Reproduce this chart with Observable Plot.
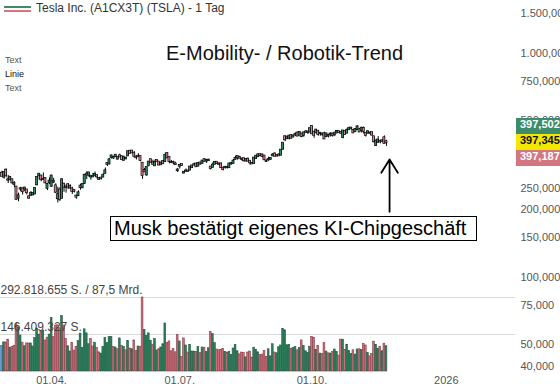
<!DOCTYPE html>
<html><head><meta charset="utf-8">
<script src="https://cdn.jsdelivr.net/npm/d3@7"></script>
<script src="https://cdn.jsdelivr.net/npm/@observablehq/plot@0.6"></script>
<style>
html,body{margin:0;padding:0;background:#fff;}
#wrap{position:relative;width:560px;height:391px;overflow:hidden;font-family:"Liberation Sans",Arial,sans-serif;background:#fff;}
#wrap svg{position:absolute;left:0;top:0;}
.ov{position:absolute;white-space:nowrap;}
.quote{position:absolute;left:516px;width:44px;height:16px;line-height:16px;padding-left:4px;box-sizing:border-box;font:bold 11px "Liberation Sans",Arial,sans-serif;overflow:hidden;}
</style></head><body><div id="wrap"></div>
<script>
// ---------- data ----------
const dates = [
"2025-02-27","2025-02-28","2025-03-03","2025-03-04","2025-03-05","2025-03-06","2025-03-07","2025-03-10","2025-03-11","2025-03-12","2025-03-13","2025-03-14","2025-03-17","2025-03-18","2025-03-19","2025-03-20","2025-03-21","2025-03-24","2025-03-25","2025-03-26","2025-03-27","2025-03-28","2025-03-31",
"2025-04-01","2025-04-02","2025-04-03","2025-04-04","2025-04-07","2025-04-08","2025-04-09","2025-04-10","2025-04-11","2025-04-14","2025-04-15","2025-04-16","2025-04-17","2025-04-21","2025-04-22","2025-04-23","2025-04-24","2025-04-25","2025-04-28","2025-04-29","2025-04-30",
"2025-05-01","2025-05-02","2025-05-05","2025-05-06","2025-05-07","2025-05-08","2025-05-09","2025-05-12","2025-05-13","2025-05-14","2025-05-15","2025-05-16","2025-05-19","2025-05-20","2025-05-21","2025-05-22","2025-05-23","2025-05-27","2025-05-28","2025-05-29","2025-05-30",
"2025-06-02","2025-06-03","2025-06-04","2025-06-05","2025-06-06","2025-06-09","2025-06-10","2025-06-11","2025-06-12","2025-06-13","2025-06-16","2025-06-17","2025-06-18","2025-06-20","2025-06-23","2025-06-24","2025-06-25","2025-06-26","2025-06-27","2025-06-30",
"2025-07-01","2025-07-02","2025-07-03","2025-07-07","2025-07-08","2025-07-09","2025-07-10","2025-07-11","2025-07-14","2025-07-15","2025-07-16","2025-07-17","2025-07-18","2025-07-21","2025-07-22","2025-07-23","2025-07-24","2025-07-25","2025-07-28","2025-07-29","2025-07-30","2025-07-31",
"2025-08-01","2025-08-04","2025-08-05","2025-08-06","2025-08-07","2025-08-08","2025-08-11","2025-08-12","2025-08-13","2025-08-14","2025-08-15","2025-08-18","2025-08-19","2025-08-20","2025-08-21","2025-08-22","2025-08-25","2025-08-26","2025-08-27","2025-08-28","2025-08-29",
"2025-09-02","2025-09-03","2025-09-04","2025-09-05","2025-09-08","2025-09-09","2025-09-10","2025-09-11","2025-09-12","2025-09-15","2025-09-16","2025-09-17","2025-09-18","2025-09-19","2025-09-22","2025-09-23","2025-09-24","2025-09-25","2025-09-26","2025-09-29","2025-09-30",
"2025-10-01","2025-10-02","2025-10-03","2025-10-06","2025-10-07","2025-10-08","2025-10-09","2025-10-10","2025-10-13","2025-10-14","2025-10-15","2025-10-16","2025-10-17","2025-10-20","2025-10-21","2025-10-22","2025-10-23","2025-10-24","2025-10-27","2025-10-28","2025-10-29","2025-10-30","2025-10-31",
"2025-11-03","2025-11-04","2025-11-05","2025-11-06","2025-11-07","2025-11-10","2025-11-11","2025-11-12","2025-11-13","2025-11-14","2025-11-17","2025-11-18","2025-11-19","2025-11-20","2025-11-21"];

const open = [
291.2,279.5,300.3,270.9,272.9,272.1,259.3,252.5,225.3,247.2,248.1,247.3,245.1,228.2,232.0,233.3,234.9,258.1,283.6,282.7,272.5,275.6,249.3,
263.8,254.6,265.3,255.4,223.8,245.0,224.7,260.0,251.8,258.4,249.9,247.6,243.5,230.3,230.9,254.9,250.5,261.7,288.2,285.5,279.9,
280.0,284.9,284.6,273.1,276.9,279.6,290.2,321.9,320.0,342.5,340.3,346.2,336.3,347.9,344.4,331.9,337.9,347.4,364.8,365.3,355.5,
343.5,346.6,345.1,322.5,298.8,285.9,314.9,334.4,323.1,313.9,331.3,326.1,317.3,327.9,327.5,356.2,342.7,324.6,324.5,319.9,
298.5,312.6,318.0,291.4,297.0,297.5,300.1,307.9,317.7,319.7,312.8,323.2,321.7,334.4,329.7,330.9,310.0,308.7,318.5,325.6,319.4,319.6,
306.2,309.1,308.8,307.9,319.8,321.4,335.0,345.0,341.5,335.8,337.7,329.6,335.8,329.2,322.1,321.7,338.9,344.9,351.9,350.9,347.2,
328.2,335.2,336.1,348.0,354.6,348.4,350.6,350.2,370.9,423.1,414.5,415.8,428.9,421.8,431.1,439.9,429.8,435.2,428.3,444.4,441.5,
443.8,470.5,443.3,440.8,447.8,437.6,431.8,436.5,423.5,426.8,434.7,434.7,432.1,443.9,445.8,442.2,420.0,446.8,439.0,454.8,462.5,451.1,446.8,
455.0,454.5,452.0,461.0,437.9,440.0,439.4,442.2,423.1,386.4,398.7,402.4,406.0,418.6,402.0];

const high = [
297.2,293.9,303.9,284.4,279.6,272.7,266.3,253.1,237.1,251.8,248.3,251.6,245.4,230.1,241.0,238.0,249.5,278.6,288.2,284.9,291.9,276.1,260.6,
277.5,284.9,276.3,261.0,252.0,250.4,274.7,262.5,257.7,261.8,258.6,251.9,244.3,232.2,242.8,259.5,259.5,286.9,294.9,293.3,284.5,
290.9,294.8,284.9,277.7,277.9,289.8,307.0,322.2,337.6,350.0,346.1,351.6,343.0,354.0,347.4,347.3,343.2,363.8,365.0,367.7,363.7,
348.0,355.4,345.6,324.6,305.5,309.8,327.8,335.5,332.6,333.0,332.5,327.3,329.3,332.4,357.5,356.3,343.0,331.1,329.3,325.6,
305.9,316.8,318.5,296.2,304.1,300.2,310.5,314.1,322.6,321.2,323.5,324.3,330.9,338.0,335.4,336.2,310.2,323.6,326.3,326.3,324.0,324.3,
309.3,312.1,312.9,320.5,322.4,335.2,346.6,345.3,346.0,340.5,339.3,336.3,340.6,331.4,324.9,340.3,349.5,351.9,355.4,353.6,348.8,
333.3,343.3,338.9,355.9,358.4,350.8,356.3,369.0,396.7,425.7,423.3,428.3,432.2,429.5,440.0,440.9,444.2,435.3,440.5,450.0,445.0,
462.3,470.8,446.8,453.6,448.5,441.3,436.4,443.1,436.9,434.2,440.5,439.4,441.0,449.8,449.4,445.0,449.4,451.7,460.2,467.0,465.7,455.1,458.0,
474.1,460.2,466.3,467.5,439.4,450.0,442.5,442.3,424.5,412.2,423.9,408.9,411.8,426.9,408.0];

const low = [
280.9,273.6,277.3,261.8,267.7,260.0,250.7,220.7,217.0,241.1,232.6,240.7,232.8,222.3,229.0,230.1,234.6,256.3,271.3,266.5,271.8,260.6,243.4,
259.3,251.3,261.5,236.0,214.3,217.8,223.9,239.3,237.1,245.9,247.5,233.9,237.7,222.8,229.9,244.4,249.2,259.6,272.4,279.5,270.8,
279.8,279.8,274.4,271.4,271.0,279.1,290.0,311.5,316.8,337.0,334.7,342.7,333.4,341.6,331.4,331.4,333.2,347.3,355.9,356.0,339.4,
333.3,343.0,327.3,273.2,295.0,281.9,310.7,322.5,316.9,313.3,326.4,314.7,315.5,317.8,327.5,340.4,320.2,323.6,317.5,316.6,
293.2,303.8,311.6,288.8,294.4,293.6,300.0,305.7,312.7,310.5,312.6,317.1,321.4,326.9,321.6,328.7,300.4,308.0,318.4,318.1,315.2,307.9,
297.8,303.4,303.7,306.9,316.2,320.9,334.0,332.9,338.0,330.4,327.0,329.6,327.9,316.0,318.7,319.7,335.0,343.7,345.0,340.3,331.7,
325.6,328.5,331.5,344.7,344.8,343.8,346.1,347.5,370.2,402.4,411.4,409.7,413.1,421.2,425.0,423.7,429.0,419.1,421.0,439.5,433.1,
441.0,435.6,416.6,436.7,425.5,425.2,426.2,411.5,419.7,417.9,421.6,421.3,423.6,434.2,441.4,433.0,413.9,430.8,438.7,451.6,452.7,439.6,443.7,
452.7,443.8,440.0,435.1,421.9,434.0,432.4,426.6,396.3,382.8,398.7,393.7,398.5,394.8,383.5];

const close = [
282.0,293.0,284.7,272.0,279.1,263.5,262.7,222.2,230.6,248.1,240.7,250.0,238.0,225.3,235.9,236.3,248.7,278.4,288.1,272.1,273.1,263.6,259.2,
268.5,282.8,267.3,239.4,233.3,221.9,272.2,252.4,252.3,252.4,254.1,241.6,241.4,227.5,238.0,250.7,259.5,285.0,285.9,292.0,282.2,
280.5,287.2,280.3,275.4,276.2,284.8,298.3,318.4,334.1,347.7,342.8,350.0,342.1,343.8,334.6,341.0,339.3,362.9,356.9,358.4,346.5,
342.7,344.3,332.1,284.7,295.1,308.6,326.1,326.4,319.1,325.3,329.1,316.4,322.1,322.2,348.7,340.5,327.6,325.8,323.6,317.7,
300.7,315.7,315.4,293.9,297.8,295.9,309.9,313.5,316.9,310.8,321.7,319.4,329.7,328.5,332.1,332.6,305.3,316.1,325.6,321.2,319.0,308.3,
302.6,309.3,308.7,319.9,322.3,329.7,339.0,340.8,339.4,335.6,330.6,335.2,329.3,323.9,320.1,340.0,346.6,351.7,349.6,346.0,333.9,
329.4,334.1,338.5,350.8,346.4,347.0,347.8,368.8,395.9,410.0,421.6,425.9,416.9,426.1,434.2,425.9,442.8,423.4,440.4,443.2,444.7,
459.5,436.0,429.8,453.3,433.1,438.7,435.5,413.5,435.9,429.2,435.2,428.8,439.3,447.4,442.6,439.0,449.0,433.7,452.4,460.6,461.5,440.1,456.6,
468.4,444.3,462.1,445.9,429.5,445.2,439.6,430.6,402.0,404.4,408.9,401.3,404.0,395.2,397.345];

// volume in millions of shares
const volume = [
101,115,115,126,94,98,102,189,174,142,114,100,111,111,111,99,132,170,146,156,162,123,134,
146,212,136,181,183,171,219,182,128,100,79,113,83,97,120,150,94,167,151,108,128,
99,114,94,76,71,97,132,112,136,136,97,95,88,131,102,97,84,120,91,88,123,
81,99,98,292.818655,165,140,151,122,106,128,83,88,95,108,190,113,119,80,89,76,
145,119,58,131,103,75,105,79,79,77,97,73,95,94,77,92,156,148,112,87,84,85,
89,78,75,78,66,91,105,80,68,75,74,56,75,79,55,94,86,76,65,67,81,
58,88,60,108,75,72,96,103,168,163,104,105,90,93,97,84,93,123,101,80,74,
98,137,133,85,102,71,69,112,79,72,71,77,87,78,63,126,126,85,106,81,70,84,67,
87,88,85,109,103,74,60,70,118,105,90,98,80,110,100];

const priceTicks = [40, 50, 75, 100, 150, 200, 250, 500, 750, 1000, 1500];
const xTickIdx = [23, 85, 149, 214];
const xTickLabels = ["01.04.", "01.07.", "01.10.", "2026"];
const volGrid = [292.818655, 146.4093275];
const volGridLabels = ["292.818.655 S. / 87,5 Mrd.", "146.409.327 S."];
const quoteValues = [397.502, 397.345, 397.187];
const quoteBg = ["#3d8b6b", "#f3e600", "#d27680"];
const quoteFg = ["#ffffff", "#111111", "#ffffff"];
const arrowNote = [{i: 187.5, from: 196, to: 335}];
const titleText = "E-Mobility- / Robotik-Trend";
const noteText = "Musk bestätigt eigenes KI-Chipgeschäft";
const headerText = "Tesla Inc. (A1CX3T) (TSLA) - 1 Tag";
const sideTexts = ["Text", "Linie", "Text"];

// ---------- build ----------
const de = d3.formatLocale({decimal: ",", thousands: ".", grouping: [3], currency: ["", ""]});
const priceFmt = de.format(",.3f");
const N = dates.length;
const rows = dates.map((d, i) => ({
  i, date: d, o: open[i], h: high[i], l: low[i], c: close[i], v: volume[i],
  vdir: i === 0 ? "first" : (close[i] >= close[i - 1] ? "up" : "down"),
  bdir: close[i] >= open[i] ? "up" : "down"
}));
const volFill = {first: "#5a8fd8", up: "#2e7d5c", down: "#cd707b"};
const volStroke = {first: "#3b6fb8", up: "#1d5a40", down: "#8f3a46"};
const bodyFill = {up: "#2f8a66", down: "#db8390"};

const W = 560, H = 391;
const xDomain = [-0.73, 248.43];
const yDomain = [38.0, 1714];
const baseStyle = {background: "transparent", fontFamily: "'Liberation Sans', Arial, sans-serif", fontSize: "11px", color: "#555", overflow: "visible"};

const volPlot = Plot.plot({
  width: W, height: H, marginTop: 297, marginBottom: 20, marginLeft: 0, marginRight: 45,
  x: {domain: xDomain, axis: null},
  y: {domain: [0, volGrid[0]], axis: null},
  style: baseStyle,
  marks: [
    Plot.ruleY(volGrid, {stroke: "#d9d9d9", strokeWidth: 1}),
    Plot.rect(rows, {x1: d => d.i - 0.43, x2: d => d.i + 0.43, y1: d => 0, y2: "v",
      fill: d => volFill[d.vdir], stroke: d => volStroke[d.vdir], strokeWidth: 0.6}),
    Plot.text(volGrid.map((v, k) => ({v, label: volGridLabels[k]})), {
      y: "v", text: "label", frameAnchor: "left", textAnchor: "start", dx: 0, dy: -7,
      fill: "#444", fontSize: 12}),
    Plot.text(xTickIdx.map((t, k) => ({t, label: xTickLabels[k]})), {
      x: "t", text: "label", frameAnchor: "bottom", lineAnchor: "top", dy: 5, dx: 2,
      fill: "#555", fontSize: 11})
  ]
});

const pricePlot = Plot.plot({
  width: W, height: H, marginTop: 0, marginBottom: 20, marginLeft: 0, marginRight: 45,
  x: {domain: xDomain, axis: null},
  y: {type: "log", domain: yDomain, axis: null},
  style: baseStyle,
  marks: [
    Plot.text(priceTicks, {y: d => d, text: d => priceFmt(d), frameAnchor: "right", textAnchor: "start",
      lineAnchor: "middle", dx: 5, fill: "#555", fontSize: 11}),
    Plot.ruleX(rows, {x: "i", y1: "l", y2: "h", stroke: "#000", strokeWidth: 1}),
    Plot.rect(rows, {x1: d => d.i - 0.5, x2: d => d.i + 0.5, y1: "o", y2: "c",
      fill: d => bodyFill[d.bdir], stroke: "#000", strokeWidth: 0.7, insetTop: -0.5, insetBottom: -0.5}),
    Plot.arrow(arrowNote, {x: "i", y1: "from", y2: "to", stroke: "#000", strokeWidth: 1.8, headLength: 13, headAngle: 64})
  ]
});

const wrap = document.getElementById("wrap");
wrap.appendChild(volPlot);
wrap.appendChild(pricePlot);

function ov(text, css) {
  const d = document.createElement("div");
  d.className = "ov";
  d.textContent = text;
  Object.assign(d.style, css);
  wrap.appendChild(d);
  return d;
}

// legend lines + header
const lg = document.createElement("div");
Object.assign(lg.style, {position: "absolute", left: "4px", top: "6px", width: "27px", height: "2px", background: "#3d8b6b"});
wrap.appendChild(lg);
const lr = document.createElement("div");
Object.assign(lr.style, {position: "absolute", left: "4px", top: "9.5px", width: "27px", height: "2px", background: "#d9747f"});
wrap.appendChild(lr);
ov(headerText, {left: "36px", top: "1px", fontSize: "12px", lineHeight: "14px", color: "#333"});

// side texts
sideTexts.forEach((t, k) => ov(t, {left: "5px", top: (55 + k * 14) + "px", fontSize: "9px", lineHeight: "11px", color: k === 1 ? "#111" : "#555"}));

// title
ov(titleText, {left: "166px", top: "43px", fontSize: "20px", lineHeight: "20px", color: "#111"});

// boxed note
ov(noteText, {left: "110px", top: "216px", width: "367px", height: "25px", boxSizing: "border-box",
  border: "1.5px solid #000", background: "#fff", fontSize: "20px", lineHeight: "22px", color: "#000", paddingLeft: "3px"});

// quote boxes derived from the price scale
const yS = pricePlot.scale("y");
const cy = yS.apply(close[N - 1]);
quoteValues.forEach((q, k) => {
  const d = document.createElement("div");
  d.className = "quote";
  d.textContent = priceFmt(q);
  d.style.top = (cy - 8 + (k - 1) * 16) + "px";
  d.style.background = quoteBg[k];
  d.style.color = quoteFg[k];
  wrap.appendChild(d);
});
</script></body></html>
